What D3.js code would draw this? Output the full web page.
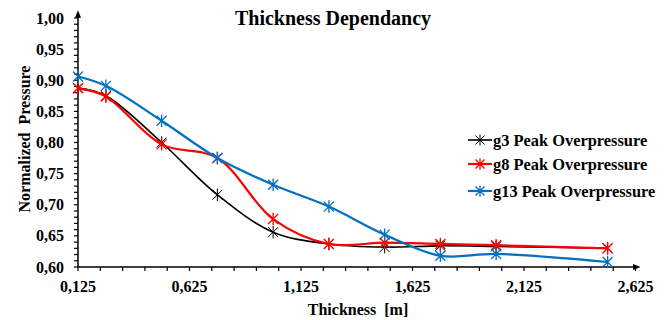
<!DOCTYPE html>
<html>
<head>
<meta charset="utf-8">
<script src="https://cdn.jsdelivr.net/npm/d3@7"></script>
<style>
  body { margin: 0; background: #fff; }
  text { font-family: "Liberation Serif", "Times New Roman", serif; font-weight: bold; fill: #000; }
</style>
</head>
<body>
<div id="chart"></div>
<script>
// thickness values [m]
var thickness = [0.125, 0.25, 0.5, 0.75, 1.0, 1.25, 1.5, 1.75, 2.0, 2.5];
// normalized pressure per gauge
var g3 = [0.888, 0.875, 0.800, 0.716, 0.656, 0.637, 0.632, 0.634, 0.633, 0.630];
var g8 = [0.887, 0.874, 0.797, 0.775, 0.677, 0.637, 0.639, 0.637, 0.635, 0.630];
var g13 = [0.906, 0.891, 0.835, 0.775, 0.732, 0.697, 0.652, 0.618, 0.621, 0.608];
var seriesNames = ["g3 Peak Overpressure", "g8 Peak Overpressure", "g13 Peak Overpressure"];
var seriesColors = ["#000000", "#ff0000", "#0070c0"];
var xTicks = [0.125, 0.625, 1.125, 1.625, 2.125, 2.625];
var yTicks = [0.60, 0.65, 0.70, 0.75, 0.80, 0.85, 0.90, 0.95, 1.00];

var width = 670, height = 320;
var margin = {top: 18, right: 34, bottom: 53, left: 78};

var svg = d3.select("#chart")
  .append("svg")
    .attr("width", width)
    .attr("height", height);

var x = d3.scaleLinear()
  .domain([0.125, 2.625])
  .range([margin.left, width - margin.right - 0.5]);

var y = d3.scaleLinear()
  .domain([0.6, 1.0])
  .range([height - margin.bottom, margin.top]);

var fmt = function(d, n) { return d.toFixed(n).replace(".", ","); };

// title
svg.append("text")
  .attr("x", 333)
  .attr("y", 25)
  .attr("text-anchor", "middle")
  .style("font-size", "20px")
  .text("Thickness Dependancy");

// minor ticks
var xMinor = d3.range(0.125, 2.6251, 0.1);
svg.append("g")
  .selectAll("line")
  .data(xMinor)
  .enter()
  .append("line")
    .attr("x1", function(d) { return x(d); })
    .attr("x2", function(d) { return x(d); })
    .attr("y1", y(0.6))
    .attr("y2", y(0.6) + 4)
    .attr("stroke", "#000")
    .attr("stroke-width", 1.2);

var yMinor = d3.range(0.6, 1.0001, 0.01);
svg.append("g")
  .selectAll("line")
  .data(yMinor)
  .enter()
  .append("line")
    .attr("x1", x(0.125) - 4)
    .attr("x2", x(0.125))
    .attr("y1", function(d) { return y(d); })
    .attr("y2", function(d) { return y(d); })
    .attr("stroke", "#000")
    .attr("stroke-width", 1.2);

// tick labels
svg.append("g")
  .selectAll("text")
  .data(yTicks)
  .enter()
  .append("text")
    .attr("x", 64)
    .attr("y", function(d) { return y(d) + 5.5; })
    .attr("text-anchor", "end")
    .style("font-size", "16px")
    .text(function(d) { return fmt(d, 2); });

svg.append("g")
  .selectAll("text")
  .data(xTicks)
  .enter()
  .append("text")
    .attr("x", function(d) { return x(d); })
    .attr("y", 292)
    .attr("text-anchor", "middle")
    .style("font-size", "16px")
    .text(function(d) { return fmt(d, 3); });

// axis lines with arrows
svg.append("defs").append("marker")
  .attr("id", "arrow")
  .attr("viewBox", "0 0 10 10")
  .attr("refX", 5)
  .attr("refY", 5)
  .attr("markerWidth", 5)
  .attr("markerHeight", 5)
  .attr("orient", "auto")
  .append("path")
    .attr("d", "M0,1 L10,5 L0,9 Z")
    .attr("fill", "#000");

svg.append("line")
  .attr("x1", x(0.125)).attr("x2", x(2.63))
  .attr("y1", y(0.6)).attr("y2", y(0.6))
  .attr("stroke", "#000").attr("stroke-width", 1.5)
  .attr("marker-end", "url(#arrow)");

svg.append("line")
  .attr("x1", x(0.125)).attr("x2", x(0.125))
  .attr("y1", y(0.6)).attr("y2", y(1.0) - 4)
  .attr("stroke", "#000").attr("stroke-width", 1.5)
  .attr("marker-end", "url(#arrow)");

// axis titles
svg.append("text")
  .attr("x", 358)
  .attr("y", 315)
  .attr("text-anchor", "middle")
  .style("font-size", "16px")
  .style("white-space", "pre")
  .text("Thickness  [m]");

svg.append("text")
  .attr("transform", "translate(30,139) rotate(-90)")
  .attr("text-anchor", "middle")
  .style("font-size", "16px")
  .style("white-space", "pre")
  .text("Normalized  Pressure");

// lines
var line = d3.line()
  .curve(d3.curveCatmullRom)
  .x(function(d) { return x(d[0]); })
  .y(function(d) { return y(d[1]); });

var allSeries = [g3, g8, g13];

function star(g, cx, cy, r, color, w) {
  var d = "M" + (cx - r) + "," + (cy - r) + "L" + (cx + r) + "," + (cy + r) +
          "M" + (cx - r) + "," + (cy + r) + "L" + (cx + r) + "," + (cy - r) +
          "M" + cx + "," + (cy - r * 1.25) + "L" + cx + "," + (cy + r * 1.25);
  g.append("path")
    .attr("d", d)
    .attr("stroke", color)
    .attr("stroke-width", w)
    .attr("fill", "none");
}

allSeries.forEach(function(vals, i) {
  var pts = thickness.map(function(t, j) { return [t, vals[j]]; });
  var g = svg.append("g");
  g.append("path")
    .datum(pts)
    .attr("d", line)
    .attr("fill", "none")
    .attr("stroke", seriesColors[i])
    .attr("stroke-width", i == 0 ? 1.6 : 2.2);
  pts.forEach(function(p) {
    star(g, x(p[0]), y(p[1]), 5, seriesColors[i], i == 0 ? 1 : 1.3);
  });
});

// legend
var legendY = [140, 164, 191];
seriesNames.forEach(function(name, i) {
  var lg = svg.append("g");
  lg.append("line")
    .attr("x1", 468).attr("x2", 492)
    .attr("y1", legendY[i]).attr("y2", legendY[i])
    .attr("stroke", seriesColors[i])
    .attr("stroke-width", i == 0 ? 1.6 : 2.2);
  star(lg, 480, legendY[i], 4.5, seriesColors[i], i == 0 ? 1 : 1.3);
  lg.append("text")
    .attr("x", 493)
    .attr("y", legendY[i] + 5.5)
    .style("font-size", "16.4px")
    .text(name);
});
</script>
</body>
</html>
